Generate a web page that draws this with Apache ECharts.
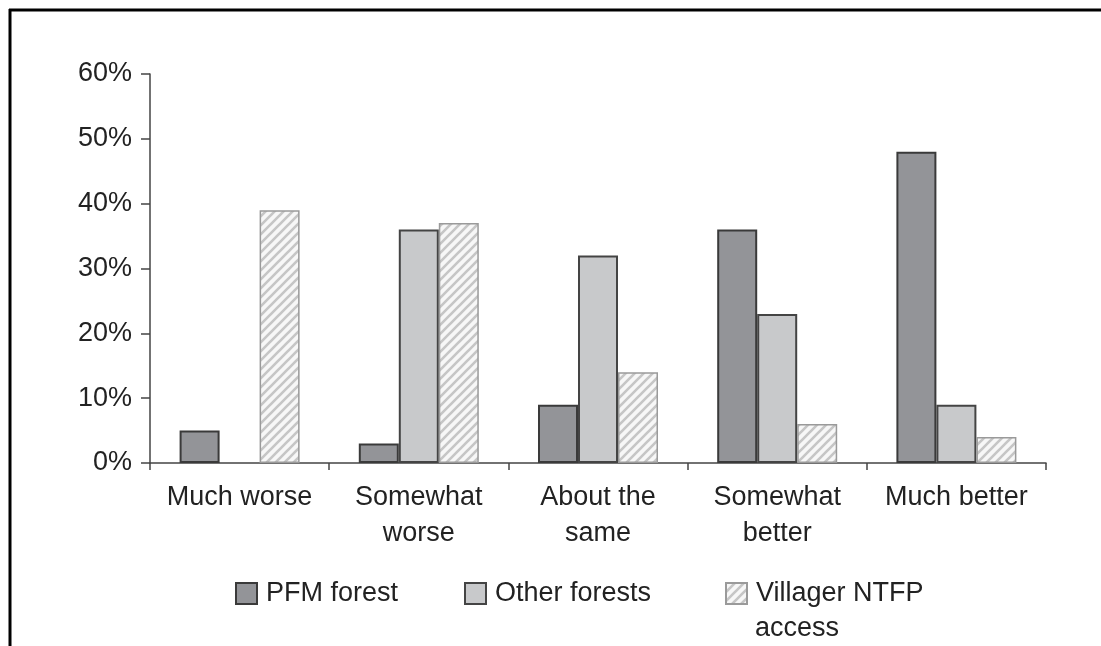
<!DOCTYPE html>
<html>
<head>
<meta charset="utf-8">
<script src="https://cdn.jsdelivr.net/npm/echarts@6/dist/echarts.min.js"></script>
<style>
html,body{margin:0;padding:0;background:#fff;}
#c{width:1101px;height:646px;}
</style>
</head>
<body>
<div id="c"></div>
<script>
var categories = ['Much worse', 'Somewhat\nworse', 'About the\nsame', 'Somewhat\nbetter', 'Much better'];
var seriesNames = ['PFM forest', 'Other forests', 'Villager NTFP access'];
var pfmValues = [5, 3, 9, 36, 48];
var otherValues = [0, 36, 32, 23, 9];
var villagerValues = [39, 37, 14, 6, 4];
var yTicks = [0, 10, 20, 30, 40, 50, 60];

function makeHatch() {
  var s = 9;
  var cv = document.createElement('canvas');
  cv.width = s; cv.height = s;
  var g = cv.getContext('2d');
  g.fillStyle = '#f7f7f7';
  g.fillRect(0, 0, s, s);
  g.strokeStyle = '#c6c6c6';
  g.lineWidth = 2.6;
  g.beginPath();
  g.moveTo(-1, s + 1); g.lineTo(s + 1, -1);
  g.moveTo(-1 - s, s + 1); g.lineTo(1, -1);
  g.moveTo(s - 1, s + 1); g.lineTo(2 * s + 1, -1);
  g.stroke();
  return cv;
}
var hatch = { image: makeHatch(), repeat: 'repeat' };

var font = '"Liberation Sans", Arial, Helvetica, sans-serif';
var fs = 27;
var chart = echarts.init(document.getElementById('c'));

function legendFor(name, left, label) {
  return {
    data: [name],
    left: left,
    top: 580,
    padding: 0,
    icon: 'rect',
    itemWidth: 21,
    itemHeight: 21,
    selectedMode: false,
    formatter: function () { return label; },
    textStyle: { fontFamily: font, fontSize: fs, color: '#222', padding: [0, 0, 0, 4] }
  };
}

function noZeroBorder(arr) {
  return arr.map(function (v) {
    return v === 0 ? { value: v, itemStyle: { borderWidth: 0 } } : v;
  });
}

chart.setOption({
  animation: false,
  backgroundColor: '#fff',
  graphic: [
    { type: 'line', shape: { x1: 9, y1: 10, x2: 1101, y2: 10 }, style: { stroke: '#000', lineWidth: 3 } },
    { type: 'line', shape: { x1: 10, y1: 9, x2: 10, y2: 646 }, style: { stroke: '#000', lineWidth: 3 } },
    { type: 'text', left: 755, top: 615, style: { text: 'access', font: fs + 'px ' + font, fill: '#222' } }
  ],
  legend: [
    legendFor(seriesNames[0], 235, 'PFM forest'),
    legendFor(seriesNames[1], 464, 'Other forests'),
    legendFor(seriesNames[2], 725, 'Villager NTFP')
  ],
  grid: { left: 150, right: 55, top: 74, bottom: 183 },
  xAxis: {
    type: 'category',
    data: categories,
    axisLine: { lineStyle: { color: '#444', width: 1.5 } },
    axisTick: { show: true, length: 7, lineStyle: { color: '#444', width: 1.5 } },
    axisLabel: { fontFamily: font, fontSize: fs, color: '#222', lineHeight: 36, margin: 17, interval: 0 }
  },
  yAxis: {
    type: 'value',
    min: yTicks[0],
    max: yTicks[yTicks.length - 1],
    interval: 10,
    axisLine: { show: true, lineStyle: { color: '#444', width: 1.5 } },
    axisTick: { show: true, length: 9, lineStyle: { color: '#444', width: 1.5 } },
    splitLine: { show: false },
    axisLabel: { fontFamily: font, fontSize: fs, color: '#222', margin: 18, padding: [6, 0, 0, 0], formatter: '{value}%' }
  },
  series: [
    {
      name: seriesNames[0], type: 'bar', data: noZeroBorder(pfmValues),
      barWidth: 40, barGap: '0%',
      itemStyle: { color: '#939498', borderColor: '#3a3a3a', borderWidth: 2 }
    },
    {
      name: seriesNames[1], type: 'bar', data: noZeroBorder(otherValues),
      barWidth: 40, barGap: '0%',
      itemStyle: { color: '#c8c9cb', borderColor: '#444', borderWidth: 2 }
    },
    {
      name: seriesNames[2], type: 'bar', data: noZeroBorder(villagerValues),
      barWidth: 40, barGap: '0%',
      itemStyle: { color: hatch, borderColor: '#9a9a9a', borderWidth: 1.5 }
    }
  ]
});
</script>
</body>
</html>
